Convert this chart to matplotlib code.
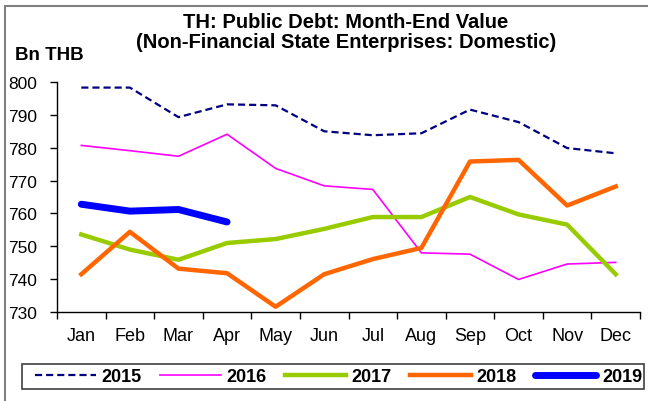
import matplotlib
matplotlib.use("Agg")
import matplotlib.pyplot as plt
from matplotlib.patches import Rectangle

plt.rcParams['font.family'] = ['Liberation Sans', 'DejaVu Sans']

months = ["Jan", "Feb", "Mar", "Apr", "May", "Jun",
          "Jul", "Aug", "Sep", "Oct", "Nov", "Dec"]
y2015 = [798.3, 798.3, 789.3, 793.2, 792.9, 785.0, 783.8, 784.4, 791.6, 787.8, 779.9, 778.3]
y2016 = [780.7, 779.1, 777.4, 784.1, 773.7, 768.4, 767.3, 748.0, 747.6, 739.9, 744.6, 745.1]
y2017 = [753.6, 749.0, 745.9, 751.0, 752.2, 755.3, 758.9, 758.9, 765.0, 759.7, 756.6, 741.5]
y2018 = [741.5, 754.4, 743.2, 741.8, 731.6, 741.5, 746.1, 749.5, 775.8, 776.3, 762.4, 768.2]
y2019 = [762.8, 760.7, 761.2, 757.4]
yticks = [730, 740, 750, 760, 770, 780, 790, 800]

W, H = 648, 402
fig = plt.figure(figsize=(W / 100, H / 100), dpi=100)

# outer frame (left and top edges visible)
fig.add_artist(Rectangle((5 / W, -0.05), 1.2, 1 - 7 / H + 0.05,
                         transform=fig.transFigure, fill=False,
                         edgecolor="#808080", linewidth=1.5))

ax = fig.add_axes([57 / W, 1 - 313 / H, (640 - 57) / W, (313 - 83) / H])
x = list(range(len(months)))

ax.plot(x, y2015, color="#000080", lw=1.6, ls=(0, (3.2, 1.8)), label="2015")
ax.plot(x, y2016, color="#FF00FF", lw=1.2, label="2016")
ax.plot(x, y2017, color="#99CC00", lw=3.2, label="2017")
ax.plot(x, y2018, color="#FF6600", lw=3.2, label="2018")
ax.plot(x[:len(y2019)], y2019, color="#0000FF", lw=5.0,
        solid_capstyle="round", label="2019")

ax.set_xlim(-0.5, len(months) - 0.5)
ax.set_ylim(730, 800)
ax.set_yticks(yticks)
ax.set_xticks(x)
ax.set_xticklabels(months)
ax.set_xticks([i - 0.5 for i in range(len(months) + 1)], minor=True)
ax.tick_params(axis="x", which="major", length=0, pad=11, labelsize=13)
ax.tick_params(axis="x", which="minor", length=5, width=1, color="#000000",
               direction="out")
ax.tick_params(axis="y", length=5, width=1, direction="out", pad=9.5,
               labelsize=12.5)
for s in ["top", "right"]:
    ax.spines[s].set_visible(False)
for s in ["left", "bottom"]:
    ax.spines[s].set_color("#000000")
    ax.spines[s].set_linewidth(1.0)

fig.text(346 / W, 1 - 23 / H, "TH: Public Debt: Month-End Value",
         ha="center", va="center", fontsize=14.5, fontweight="bold")
fig.text(346 / W, 1 - 42 / H, "(Non-Financial State Enterprises: Domestic)",
         ha="center", va="center", fontsize=14.5, fontweight="bold")
fig.text(15 / W, 1 - 55 / H, "Bn THB", ha="left", va="center",
         fontsize=13.5, fontweight="bold")

# legend box
fig.add_artist(Rectangle((22 / W, 1 - 390 / H), (644 - 22) / W, 25 / H,
                         transform=fig.transFigure, fill=False,
                         edgecolor="#404040", linewidth=1.2))
leg = fig.legend(loc="center", ncol=5, mode="expand",
                 bbox_to_anchor=(35 / W, 1 - 390 / H, (642 - 35) / W, 25 / H),
                 prop={"weight": "bold", "size": 13},
                 handlelength=3.4, handletextpad=0.3, borderaxespad=0,
                 borderpad=0.0, frameon=False)

fig.savefig("out.png", dpi=100)
